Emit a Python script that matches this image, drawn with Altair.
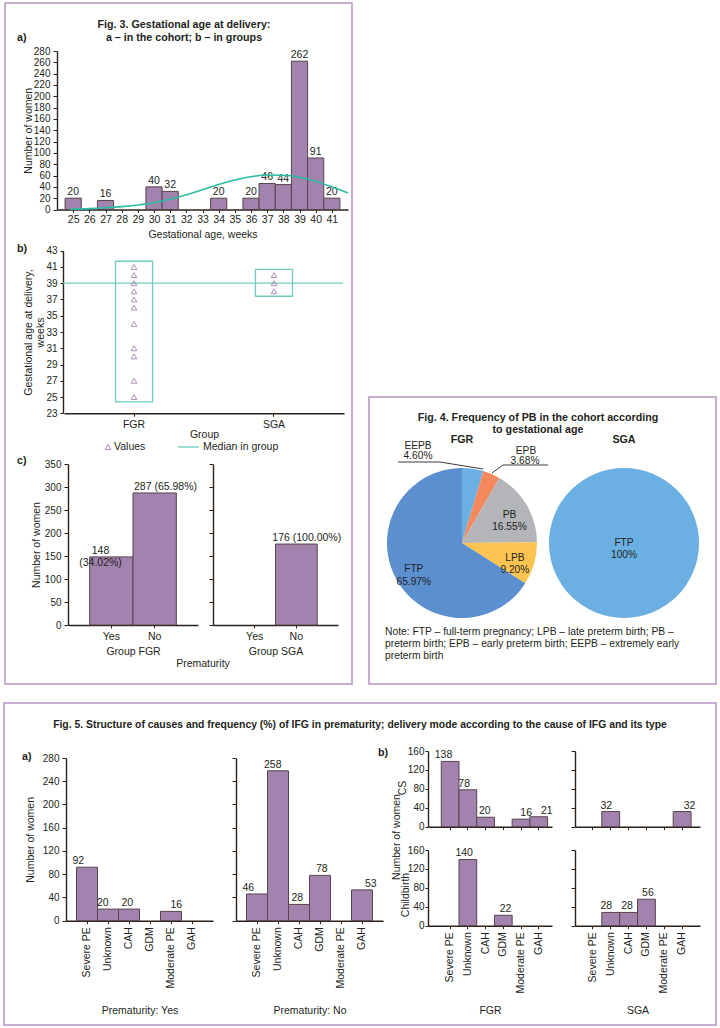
import altair as alt
import pandas as pd

# ------------------------------------------------------------------ data
# Fig. 3a  women by gestational week + fitted curve
weeks = list(range(25, 42))
women_by_week = [20, 0, 16, 0, 0, 40, 32, 0, 0, 20, 0, 20, 46, 44, 262, 91, 20]
curve_week = [24.8, 26, 27, 28, 29, 30, 31, 32, 33, 34, 35, 36, 37, 38, 39, 40, 41, 42]
curve_women = [0.5, 1.5, 3, 5, 8, 12, 18, 26, 35, 44, 52, 58, 61, 60.5, 57, 50, 40, 29]
y3a_ticks = list(range(0, 281, 20))

# Fig. 3b  gestational age by group
groups = ["FGR", "SGA"]
fgr_ga = [41, 40, 39, 38, 37, 36, 34, 31, 30, 27, 25]
sga_ga = [40, 39, 38]
range_lo = [24.4, 37.4]
range_hi = [41.7, 40.7]
median_ga = 39
y3b_ticks = list(range(23, 44, 2))

# Fig. 3c  prematurity by group
prem = ["Yes", "No"]
fgr_prem = [148, 287]
fgr_prem_lbl = ["148\n(34.02%)", "287 (65.98%)"]
sga_prem = [0, 176]
sga_prem_lbl = ["", "176 (100.00%)"]
y3c_ticks = list(range(0, 351, 50))

# Fig. 4  frequency of PB
pb_cats = ["EEPB", "EPB", "PB", "LPB", "FTP"]
fgr_pb = [4.60, 3.68, 16.55, 9.20, 65.97]
fgr_pb_inner = ["", "", "PB\n16.55%", "LPB\n9.20%", "FTP\n65.97%"]
pb_colors = ["#6cafe2", "#f3895c", "#b3b5b9", "#fdc452", "#5b8fd0"]
sga_pb_cats = ["FTP"]
sga_pb = [100]
sga_pb_lbl = ["FTP\n100%"]
sga_pb_colors = ["#6cafe2"]

# Fig. 5  causes
causes = ["Severe PE", "Unknown", "CAH", "GDM", "Moderate PE", "GAH"]
prem_yes = [92, 20, 20, 0, 16, 0]
prem_no = [46, 258, 28, 78, 0, 53]
fgr_cs = [138, 78, 20, 0, 16, 21]
fgr_birth = [0, 140, 0, 22, 0, 0]
sga_cs = [0, 32, 0, 0, 0, 32]
sga_birth = [0, 28, 28, 56, 0, 0]
y5a_ticks = list(range(0, 281, 40))
y5b_ticks = list(range(0, 161, 40))

# ------------------------------------------------------------------ style
W, H = 720, 1028
FONT = "Liberation Sans"
TXT = "#231f20"
AXC = "#2b2119"
BAR = "#a283ad"
BAR_EDGE = "#54444c"
TEAL = "#2bbba3"
TEAL_L = "#6fcdbd"
FRAME = "#b792c0"
TRI = "#8d5f9b"
TSZ = 10.7   # bold titles
LSZ = 10.5   # general text

ONE = pd.DataFrame({"k": [0]})


def ax_common(**kw):
    d = dict(domainColor=AXC, domainWidth=1.4, tickColor=AXC, tickWidth=1, tickSize=3,
             labelFont=FONT, labelFontSize=10, labelColor=TXT, labelPadding=2,
             titleFont=FONT, titleFontSize=LSZ, titleFontWeight="normal", titleColor=TXT,
             grid=False)
    d.update(kw)
    return d


def xaxis(ypix, **kw):
    return alt.Axis(orient="bottom", offset=ypix - H, **ax_common(**kw))


def yaxis(xpix, **kw):
    kw.setdefault("tickSize", 4)
    kw.setdefault("labelPadding", 3)
    return alt.Axis(orient="left", offset=-xpix, **ax_common(**kw))


def note(text, x, y, size=LSZ, weight="normal", align="center", angle=0):
    return alt.Chart(ONE).mark_text(text=text, font=FONT, fontSize=size, fontWeight=weight,
                                    align=align, baseline="middle", angle=angle,
                                    color=TXT).encode(x=alt.value(x), y=alt.value(y))


def frame(x0, y0, x1, y1):
    return alt.Chart(ONE).mark_rect(fill="transparent", stroke=FRAME, strokeWidth=1.5).encode(
        x=alt.value(x0), x2=alt.value(x1), y=alt.value(y0), y2=alt.value(y1))


def seg(x0, y0, x1, y1, color=AXC, width=1.0):
    return alt.Chart(ONE).mark_rule(color=color, strokeWidth=width).encode(
        x=alt.value(x0), x2=alt.value(x1), y=alt.value(y0), y2=alt.value(y1))


def bar_panel(cats, vals, labels, xr, yr, ydom, x_axis, y_axis, align=0.5):
    df = pd.DataFrame({"cat": cats, "v": vals, "z": [0] * len(vals), "lbl": labels})
    xs = alt.Scale(domain=cats, range=xr, paddingInner=0, paddingOuter=0.5, align=align)
    ys = alt.Scale(domain=ydom, range=yr, nice=False)
    base = alt.Chart(df).transform_filter("datum.v > 0")
    bars = base.mark_bar(fill=BAR, stroke=BAR_EDGE, strokeWidth=1).encode(
        x=alt.X("cat:N", scale=xs, axis=x_axis, sort=cats),
        y=alt.Y("v:Q", scale=ys, axis=y_axis),
        y2="z:Q")
    text = base.mark_text(font=FONT, fontSize=LSZ, color=TXT, baseline="bottom", dy=-1,
                          lineBreak="\n").encode(
        x=alt.X("cat:N", scale=xs, axis=None, sort=cats),
        y=alt.Y("v:Q", scale=ys, axis=None),
        text="lbl:N")
    return [bars, text]


layers = []

# ------------------------------------------------------------------ frames
layers += [frame(5, 3, 352, 684), frame(369, 397, 716, 684), frame(4, 703, 716, 1025)]

# ------------------------------------------------------------------ Fig. 3 titles
layers += [
    note("Fig. 3. Gestational age at delivery:", 184, 25, TSZ, "bold"),
    note("a – in the cohort; b – in groups", 184, 37.5, TSZ, "bold"),
    note("a)", 17, 37.5, TSZ, "bold", "left"),
    note("b)", 17, 249, TSZ, "bold", "left"),
    note("c)", 17, 461, TSZ, "bold", "left"),
]

# ------------------------------------------------------------------ Fig. 3a
X3A = alt.Scale(domain=[24, 42], range=[57, 348], nice=False, zero=False)
Y3A = alt.Scale(domain=[0, 280], range=[209.5, 51], nice=False)
df3a = pd.DataFrame({"w": weeks, "n": women_by_week})
df3a["x0"] = df3a["w"] - 0.5
df3a["x1"] = df3a["w"] + 0.5
df3a["z"] = 0
b3a = alt.Chart(df3a).transform_filter("datum.n > 0")
layers.append(b3a.mark_bar(fill=BAR, stroke=BAR_EDGE, strokeWidth=1).encode(
    x=alt.X("x0:Q", scale=X3A,
            axis=xaxis(209.5, values=weeks, format="d", title="Gestational age, weeks",
                       titlePadding=4, labelPadding=2, labelFontSize=10.5)),
    x2="x1:Q",
    y=alt.Y("n:Q", scale=Y3A, axis=yaxis(57, values=y3a_ticks, title="Number of women",
                                         titlePadding=0)),
    y2="z:Q"))
layers.append(b3a.mark_text(font=FONT, fontSize=LSZ, color=TXT, baseline="bottom", dy=-1).encode(
    x=alt.X("w:Q", scale=X3A, axis=None),
    y=alt.Y("n:Q", scale=Y3A, axis=None),
    text="n:Q"))
layers.append(alt.Chart(pd.DataFrame({"w": curve_week, "n": curve_women})).mark_line(
    color=TEAL, strokeWidth=1.6, interpolate="monotone").encode(
    x=alt.X("w:Q", scale=X3A, axis=None),
    y=alt.Y("n:Q", scale=Y3A, axis=None)))

# ------------------------------------------------------------------ Fig. 3b
X3B = alt.Scale(domain=groups, range=[64, 344], paddingInner=0.7357, paddingOuter=0.368)
Y3B = alt.Scale(domain=[23, 43], range=[413.3, 250.7], nice=False, zero=False)
df_box = pd.DataFrame({"g": groups, "lo": range_lo, "hi": range_hi})
layers.append(alt.Chart(pd.DataFrame({"a": [0], "b": [1], "m": [median_ga]})).mark_rule(
    color=TEAL_L, strokeWidth=1.3).encode(
    x=alt.X("a:Q", scale=alt.Scale(domain=[0, 1], range=[63, 343]), axis=None),
    x2="b:Q",
    y=alt.Y("m:Q", scale=Y3B, axis=None)))
layers.append(alt.Chart(df_box).mark_bar(fill="transparent", stroke=TEAL_L, strokeWidth=1.3).encode(
    x=alt.X("g:N", scale=X3B, sort=groups,
            axis=xaxis(413.3, title="Group", titlePadding=0, labelPadding=3, labelAngle=0,
                       labelFontSize=LSZ)),
    y=alt.Y("lo:Q", scale=Y3B,
            axis=yaxis(63, values=y3b_ticks, title=["Gestational age at delivery,", "weeks"],
                       titlePadding=0, tickSize=3, labelPadding=3)),
    y2="hi:Q"))
df_pts = pd.DataFrame({"g": ["FGR"] * len(fgr_ga) + ["SGA"] * len(sga_ga),
                       "ga": fgr_ga + sga_ga})
layers.append(alt.Chart(df_pts).mark_point(shape="triangle-up", filled=False, color=TRI,
                                           strokeWidth=1, size=32).encode(
    x=alt.X("g:N", scale=X3B, axis=None, sort=groups),
    y=alt.Y("ga:Q", scale=Y3B, axis=None)))
# legend
layers += [
    alt.Chart(ONE).mark_point(shape="triangle-up", filled=False, color=TRI, strokeWidth=1,
                              size=32).encode(x=alt.value(108), y=alt.value(447)),
    note("Values", 114, 447, align="left"),
    seg(178, 447, 199, 447, TEAL_L, 1.3),
    note("Median in group", 203, 447, align="left"),
]

# ------------------------------------------------------------------ Fig. 3c
layers += bar_panel(prem, fgr_prem, fgr_prem_lbl, [68, 198], [625, 464], [0, 350],
                    xaxis(625, title="Group FGR", titlePadding=5, labelAngle=0,
                          labelFontSize=LSZ, labelPadding=3),
                    yaxis(68, values=y3c_ticks, title="Number of women", titlePadding=3))
layers += bar_panel(prem, sga_prem, sga_prem_lbl, [213, 338], [625, 464], [0, 350],
                    xaxis(625, title="Group SGA", titlePadding=5, labelAngle=0,
                          labelFontSize=LSZ, labelPadding=3),
                    yaxis(213, values=y3c_ticks, labels=False, title=""))
layers.append(note("Prematurity", 203, 664))

# ------------------------------------------------------------------ Fig. 4
layers += [
    note("Fig. 4. Frequency of PB in the cohort according", 538, 418, TSZ, "bold"),
    note("to gestational age", 538, 430, TSZ, "bold"),
    note("FGR", 462, 440, TSZ, "bold"),
    note("SGA", 624, 440, TSZ, "bold"),
]
df_pie = pd.DataFrame({"cat": pb_cats, "pct": fgr_pb, "ord": list(range(len(pb_cats))),
                       "lbl": fgr_pb_inner})
pie_base = alt.Chart(df_pie).encode(
    theta=alt.Theta("pct:Q", stack=True, scale=alt.Scale(domain=[0, 100])),
    order=alt.Order("ord:Q"),
    x=alt.value(462), y=alt.value(543))
layers.append(pie_base.mark_arc(outerRadius=75).encode(
    color=alt.Color("cat:N", scale=alt.Scale(domain=pb_cats, range=pb_colors), legend=None)))
layers.append(pie_base.mark_text(radius=55, font=FONT, fontSize=10.2, color=TXT,
                                 lineBreak="\n").encode(text="lbl:N"))
df_pie2 = pd.DataFrame({"cat": sga_pb_cats, "pct": sga_pb, "lbl": sga_pb_lbl})
pie2_base = alt.Chart(df_pie2).encode(
    theta=alt.Theta("pct:Q", stack=True, scale=alt.Scale(domain=[0, 100])),
    x=alt.value(624), y=alt.value(543))
layers.append(pie2_base.mark_arc(outerRadius=75).encode(
    color=alt.Color("cat:N", scale=alt.Scale(domain=sga_pb_cats, range=sga_pb_colors),
                    legend=None)))
layers.append(pie2_base.mark_text(radius=0, font=FONT, fontSize=10.2, color=TXT,
                                  lineBreak="\n").encode(text="lbl:N"))
# outside labels with leader lines
layers += [
    note("EEPB", 418, 446, 10.2), note("4.60%", 418, 455.5, 10.2),
    note("EPB", 526, 451, 10.2), note("3.68%", 525, 461, 10.2),
    seg(398, 462, 440, 462, "#3a3a3a", 1), seg(440, 462, 483, 469, "#3a3a3a", 1),
    seg(548, 465, 503, 465, "#3a3a3a", 1), seg(503, 465, 492, 473, "#3a3a3a", 1),
    note("Note: FTP – full-term pregnancy; LPB – late preterm birth; PB –", 385, 632, 10.3,
         align="left"),
    note("preterm birth; EPB – early preterm birth; EEPB – extremely early", 385, 644, 10.3,
         align="left"),
    note("preterm birth", 385, 656, 10.3, align="left"),
]

# ------------------------------------------------------------------ Fig. 5
layers += [
    note("Fig. 5. Structure of causes and frequency (%) of IFG in prematurity; "
         "delivery mode according to the cause of IFG and its type", 360, 725, 10.4, "bold"),
    note("a)", 22, 757, TSZ, "bold", "left"),
    note("b)", 378, 753, TSZ, "bold", "left"),
    note("Number of women", 397, 837, angle=270),
    note("CS", 403, 788, angle=270),
    note("Childbirth", 406, 895, angle=270),
]
rot = dict(labelAngle=270, labelAlign="right", labelBaseline="middle", labelFontSize=LSZ,
           labelPadding=3)
layers += bar_panel(causes, prem_yes, [str(v) for v in prem_yes], [66, 213], [920.7, 758],
                    [0, 280],
                    xaxis(920.7, title="Prematurity: Yes", titlePadding=18, **rot),
                    yaxis(66, values=y5a_ticks, title="Number of women", titlePadding=7))
layers += bar_panel(causes, prem_no, [str(v) for v in prem_no], [236, 383], [920.7, 758],
                    [0, 280],
                    xaxis(920.7, title="Prematurity: No", titlePadding=18, **rot),
                    yaxis(236, values=y5a_ticks, labels=False, title=""))
layers += bar_panel(causes, fgr_cs, [str(v) for v in fgr_cs], [428, 552], [826.7, 751],
                    [0, 160],
                    xaxis(826.7, labels=False, title=""),
                    yaxis(428, values=y5b_ticks, title="", tickSize=3, labelPadding=1),
                    align=0.75)
layers += bar_panel(causes, fgr_birth, [str(v) for v in fgr_birth], [428, 552], [925.7, 850],
                    [0, 160],
                    xaxis(925.7, title="FGR", titlePadding=13, **rot),
                    yaxis(428, values=y5b_ticks, title="", tickSize=3, labelPadding=1),
                    align=0.75)
layers += bar_panel(causes, sga_cs, [str(v) for v in sga_cs], [575, 700], [826.7, 751],
                    [0, 160],
                    xaxis(826.7, labels=False, title=""),
                    yaxis(575, values=y5b_ticks, labels=False, title=""))
layers += bar_panel(causes, sga_birth, [str(v) for v in sga_birth], [575, 700], [925.7, 850],
                    [0, 160],
                    xaxis(925.7, title="SGA", titlePadding=13, **rot),
                    yaxis(575, values=y5b_ticks, labels=False, title=""))

chart = alt.layer(*layers).resolve_scale(
    x="independent", y="independent", theta="independent", color="independent"
).resolve_axis(x="independent", y="independent").properties(
    width=W, height=H, padding=0, background="white",
    autosize=alt.AutoSizeParams(type="none")
).configure_view(strokeWidth=0)

chart.save("out.html", embed_options={"renderer": "svg", "actions": False})
